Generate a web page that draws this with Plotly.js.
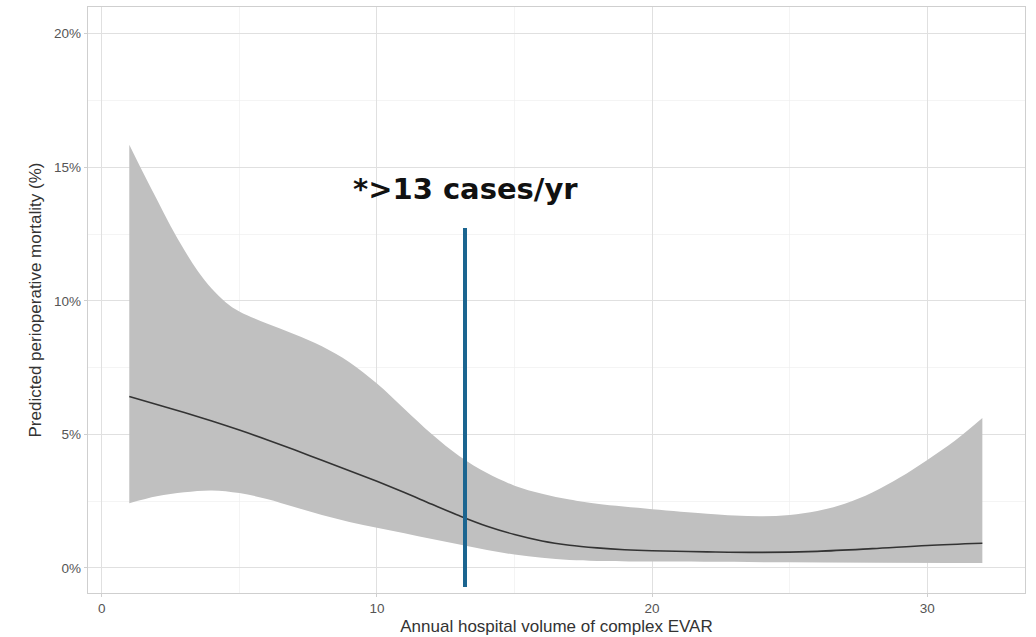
<!DOCTYPE html>
<html>
<head>
<meta charset="utf-8">
<script src="https://cdn.plot.ly/plotly-3.0.1.min.js"></script>
<style>html,body{margin:0;padding:0;background:#fff;}#chart{width:1036px;height:637px;}</style>
</head>
<body>
<div id="chart"></div>
<script>
// Predicted mortality curve (%), by annual hospital volume
const meanX = [1, 2, 3, 4, 5, 6, 7, 8, 9, 10, 11, 12, 13, 14, 15, 16, 17, 18, 19, 20, 22, 24, 26, 28, 30, 32];
const meanY = [6.42, 6.12, 5.82, 5.5, 5.16, 4.8, 4.42, 4.03, 3.64, 3.24, 2.82, 2.38, 1.95, 1.56, 1.25, 1.01, 0.85, 0.75, 0.68, 0.64, 0.60, 0.58, 0.62, 0.72, 0.84, 0.92];

// Upper confidence bound (%)
const upperX = [1, 1.5, 2, 2.5, 3, 3.5, 4, 4.5, 5, 6, 7, 8, 9, 10, 11, 12, 13, 14, 15, 16, 17, 18, 20, 22, 23, 24, 25, 26, 27, 28, 29, 30, 31, 32];
const upperY = [15.84, 14.8, 13.8, 12.8, 11.9, 11.1, 10.45, 9.95, 9.6, 9.15, 8.75, 8.3, 7.7, 6.9, 5.95, 5.0, 4.18, 3.55, 3.08, 2.78, 2.56, 2.4, 2.2, 2.03, 1.96, 1.93, 1.98, 2.13, 2.4, 2.82, 3.38, 4.04, 4.76, 5.61];

// Lower confidence bound (%)
const lowerX = [1, 2, 3, 4, 5, 6, 7, 8, 9, 10, 11, 12, 13, 14, 15, 16, 17, 18, 20, 25, 32];
const lowerY = [2.42, 2.68, 2.83, 2.9, 2.8, 2.58, 2.28, 1.98, 1.72, 1.5, 1.3, 1.08, 0.88, 0.67, 0.5, 0.38, 0.3, 0.26, 0.24, 0.21, 0.18];

// Threshold marker
const thresholdX = 13.2;
const thresholdSpan = [-0.72, 12.73];
const thresholdLabel = '*>13 cases/yr';
const labelY = 14.2;

// Axis ticks
const xTicks = [0, 10, 20, 30];
const yTicks = [0, 5, 10, 15, 20];

const traces = [
  {x: lowerX, y: lowerY, type: 'scatter', mode: 'lines',
   line: {width: 0, shape: 'spline', smoothing: 1, color: 'rgba(0,0,0,0)'}, hoverinfo: 'skip', showlegend: false},
  {x: upperX, y: upperY, type: 'scatter', mode: 'lines', fill: 'tonexty',
   fillcolor: 'rgb(192,192,192)',
   line: {width: 0, shape: 'spline', smoothing: 1, color: 'rgba(0,0,0,0)'}, hoverinfo: 'skip', showlegend: false},
  {x: meanX, y: meanY, type: 'scatter', mode: 'lines',
   line: {width: 1.6, shape: 'spline', smoothing: 1, color: '#333333'}, showlegend: false},
  {x: [thresholdX, thresholdX], y: thresholdSpan, type: 'scatter', mode: 'lines',
   line: {width: 4, color: '#1b6590'}, showlegend: false}
];

const layout = {
  width: 1036, height: 637,
  margin: {l: 88, r: 11, t: 7, b: 44},
  paper_bgcolor: '#ffffff', plot_bgcolor: '#ffffff',
  font: {family: 'Liberation Sans, Arial, sans-serif', color: '#333'},
  showlegend: false,
  xaxis: {
    range: [-0.5, 33.55], tickvals: xTicks, ticktext: xTicks.map(String),
    showgrid: true, gridcolor: '#e0e0e0', gridwidth: 1,
    minor: {dtick: 5, tick0: 0, showgrid: true, gridcolor: '#ededed', gridwidth: 0.6},
    zeroline: false, showline: true, mirror: true, linecolor: '#cfcfcf', linewidth: 1.2,
    ticks: 'outside', ticklen: 3, tickcolor: '#cfcfcf',
    tickfont: {size: 13.5, color: '#555'},
    title: {text: 'Annual hospital volume of complex EVAR', font: {size: 17, color: '#333'}, standoff: 4}
  },
  yaxis: {
    range: [-0.94, 21.0], tickvals: yTicks, ticktext: yTicks.map(v => v + '%'),
    showgrid: true, gridcolor: '#e0e0e0', gridwidth: 1,
    minor: {dtick: 2.5, tick0: 0, showgrid: true, gridcolor: '#ededed', gridwidth: 0.6},
    zeroline: false, showline: true, mirror: true, linecolor: '#cfcfcf', linewidth: 1.2,
    ticks: 'outside', ticklen: 3, tickcolor: '#cfcfcf',
    tickfont: {size: 13.5, color: '#555'},
    title: {text: 'Predicted perioperative mortality (%)', font: {size: 17, color: '#333'}, standoff: 8}
  },
  annotations: [{
    x: thresholdX, y: labelY, xref: 'x', yref: 'y', text: '<b>' + thresholdLabel + '</b>',
    showarrow: false, font: {family: 'DejaVu Sans, sans-serif', size: 29, color: '#111'},
    xanchor: 'center', yanchor: 'middle'
  }]
};

Plotly.newPlot('chart', traces, layout, {staticPlot: true, displayModeBar: false});
</script>
</body>
</html>
